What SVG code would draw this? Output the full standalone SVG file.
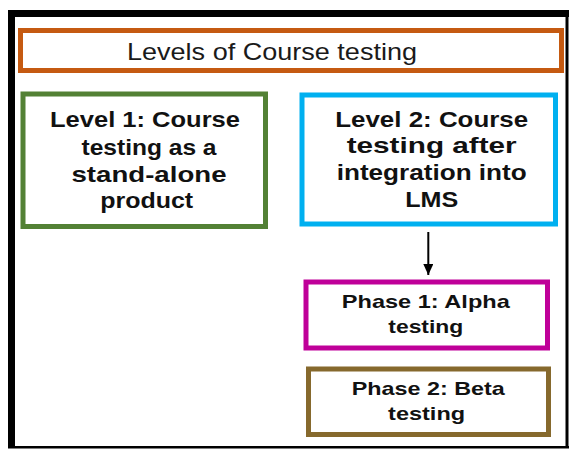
<svg xmlns="http://www.w3.org/2000/svg" width="571" height="449" viewBox="0 0 571 449">
  <style>
    .box { fill: #ffffff; stroke-width: 5; }
    .title { font-family: "Liberation Sans", Arial, sans-serif; font-size: 24px; fill: #1a1a1a; text-anchor: middle; }
    .lbl { font-family: "Liberation Sans", Arial, sans-serif; font-weight: bold; font-size: 21.5px; fill: #111111; text-anchor: middle; }
    .lbl-s { font-family: "Liberation Sans", Arial, sans-serif; font-weight: bold; font-size: 19px; fill: #111111; text-anchor: middle; }
  </style>
  <defs>
    <marker id="arrowhead" markerWidth="12" markerHeight="10" refX="11" refY="5" orient="auto" markerUnits="userSpaceOnUse">
      <polygon points="0,0 11,5 0,10" fill="#000000"/>
    </marker>
  </defs>

  <!-- page background -->
  <rect x="0" y="0" width="571" height="449" fill="#ffffff"/>

  <!-- outer frame (heavier on top and left) -->
  <g id="frame" fill="#000000">
    <rect x="8" y="10" width="7" height="438"/>
    <rect x="8" y="10" width="561" height="7"/>
    <rect x="565.5" y="10" width="3" height="438"/>
    <rect x="8" y="446" width="561" height="2.5"/>
  </g>

  <!-- title box -->
  <g id="title">
    <rect class="box" x="20.5" y="30.5" width="541" height="40" stroke="#C55A11"/>
    <text class="title" x="272" y="60" textLength="290" lengthAdjust="spacingAndGlyphs">Levels of Course testing</text>
  </g>

  <!-- level 1 -->
  <g id="level1">
    <rect class="box" x="23" y="94" width="242.5" height="132.5" stroke="#538135"/>
    <text class="lbl" x="145" y="126.7" textLength="190" lengthAdjust="spacingAndGlyphs">Level 1: Course</text>
    <text class="lbl" x="149" y="155" textLength="135" lengthAdjust="spacingAndGlyphs">testing as a</text>
    <text class="lbl" x="149" y="181.7" textLength="155" lengthAdjust="spacingAndGlyphs">stand-alone</text>
    <text class="lbl" x="146.7" y="208.3" textLength="93" lengthAdjust="spacingAndGlyphs">product</text>
  </g>

  <!-- level 2 -->
  <g id="level2">
    <rect class="box" x="302" y="95" width="253.5" height="129" stroke="#00B0F0"/>
    <text class="lbl" x="431.7" y="126.7" textLength="193" lengthAdjust="spacingAndGlyphs">Level 2: Course</text>
    <text class="lbl" x="431.7" y="153.3" textLength="170" lengthAdjust="spacingAndGlyphs">testing after</text>
    <text class="lbl" x="431.7" y="180" textLength="190" lengthAdjust="spacingAndGlyphs">integration into</text>
    <text class="lbl" x="431.7" y="206.7" textLength="53" lengthAdjust="spacingAndGlyphs">LMS</text>
  </g>

  <!-- phase 1 -->
  <g id="phase1">
    <rect class="box" x="306" y="282" width="241.5" height="66" stroke="#BF0099" stroke-width="4.5"/>
    <text class="lbl-s" x="425.8" y="308.3" textLength="168" lengthAdjust="spacingAndGlyphs">Phase 1: Alpha</text>
    <text class="lbl-s" x="425.8" y="333.3" textLength="75" lengthAdjust="spacingAndGlyphs">testing</text>
  </g>

  <!-- phase 2 -->
  <g id="phase2">
    <rect class="box" x="308.5" y="369" width="240" height="65.5" stroke="#86692D" stroke-width="4.5"/>
    <text class="lbl-s" x="428.3" y="395" textLength="153" lengthAdjust="spacingAndGlyphs">Phase 2: Beta</text>
    <text class="lbl-s" x="426.6" y="420" textLength="77" lengthAdjust="spacingAndGlyphs">testing</text>
  </g>

  <!-- connectors -->
  <g id="connectors">
    <line x1="428.3" y1="232" x2="428.3" y2="275" stroke="#000000" stroke-width="2" marker-end="url(#arrowhead)"/>
  </g>
</svg>
